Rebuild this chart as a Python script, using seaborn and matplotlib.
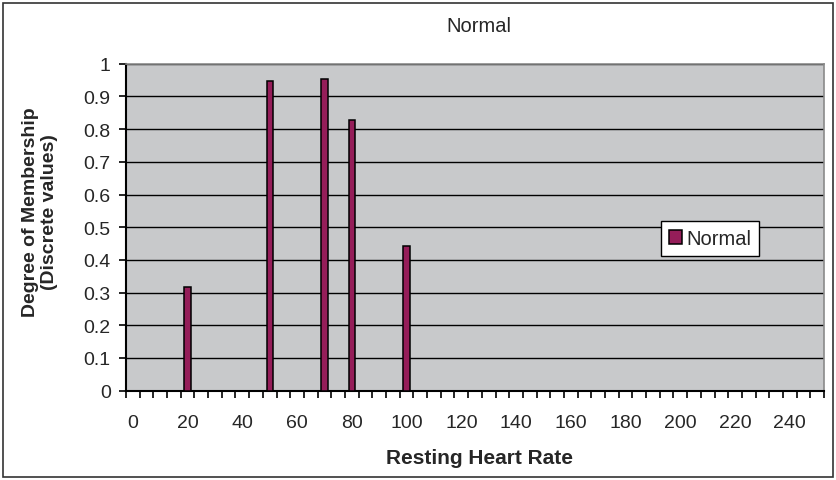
import matplotlib
matplotlib.use("Agg")
import matplotlib.pyplot as plt
import seaborn as sns
import pandas as pd
import numpy as np
from matplotlib.patches import Rectangle

heart_rate = [20, 50, 70, 80, 100]
membership = [0.318, 0.947, 0.953, 0.828, 0.443]
series_name = "Normal"
x_tick_labels = [0, 20, 40, 60, 80, 100, 120, 140, 160, 180, 200, 220, 240]
y_ticks = [0, 0.1, 0.2, 0.3, 0.4, 0.5, 0.6, 0.7, 0.8, 0.9, 1]
y_tick_labels = ["0", "0.1", "0.2", "0.3", "0.4", "0.5", "0.6", "0.7", "0.8", "0.9", "1"]

sns.set_style("white")
plt.rcParams['font.family'] = ['Liberation Sans', 'DejaVu Sans']

df = pd.DataFrame({"Resting Heart Rate": heart_rate, "Membership": membership,
                   "Series": series_name})

fig = plt.figure(figsize=(8.37, 4.81), dpi=100)
ax = fig.add_axes([126/837, 1 - 391.7/481, (824-126)/837, (391.7-64.7)/481])
ax.set_facecolor("#c8c9cb")

min_gap = np.min(np.diff(sorted(heart_rate)))
sns.barplot(data=df, x="Resting Heart Rate", y="Membership", hue="Series",
            palette=["#951d59"], saturation=1, native_scale=True, width=2.3/min_gap,
            edgecolor="black", linewidth=1.1, ax=ax, legend=True, zorder=3)

ax.set_xlim(-2.5, 252.5)
ax.set_ylim(0, 1)
ax.set_yticks(y_ticks)
ax.set_yticklabels(y_tick_labels, fontsize=14)
ax.yaxis.grid(True, color="black", linewidth=1.0, zorder=0)
ax.set_axisbelow(True)

# category boundary tick marks
boundaries = np.arange(-2.5, 253, 5)
ax.set_xticks(boundaries)
ax.set_xticklabels([])
ax.set_xticks(x_tick_labels, minor=True)
ax.set_xticklabels([str(v) for v in x_tick_labels], minor=True, fontsize=14)
ax.tick_params(axis="x", which="major", direction="out", length=5, width=1.2, color="black", bottom=True)
ax.tick_params(axis="x", which="minor", length=0, pad=17)
ax.tick_params(axis="y", direction="out", length=5, width=1.2, color="black", left=True, pad=6)

for side in ["left", "bottom"]:
    ax.spines[side].set_color("black")
    ax.spines[side].set_linewidth(1.5)
for side in ["top", "right"]:
    ax.spines[side].set_color("#8a8a8a")
    ax.spines[side].set_linewidth(1.2)

ax.set_xlabel("Resting Heart Rate", fontsize=15, fontweight="bold", va="center")
ax.xaxis.set_label_coords((480-126)/698, (391.7-458)/327)
ax.set_ylabel("Degree of Membership\n(Discrete values)", fontsize=14, fontweight="bold",
              va="center", linespacing=1.2)
ax.yaxis.set_label_coords((40-126)/698, (391.7-212)/327)

leg = ax.legend(loc="center", bbox_to_anchor=((710-126)/698, (391.7-239.5)/327),
                frameon=True, fancybox=False, edgecolor="black", fontsize=14.5,
                handlelength=0.65, handleheight=0.65, handletextpad=0.2,
                borderpad=0.4, borderaxespad=0)
leg.get_frame().set_linewidth(1.0)
leg.get_frame().set_facecolor("white")
leg.get_frame().set_alpha(1)

fig.text(479/837, 1 - 27/481, "Normal", ha="center", va="center", fontsize=14.5)

fig.patches.append(Rectangle((3/837, 3/481), 830/837, 474/481, transform=fig.transFigure,
                             fill=False, edgecolor="#333333", linewidth=1.2))

fig.savefig("out.png", dpi=100)
